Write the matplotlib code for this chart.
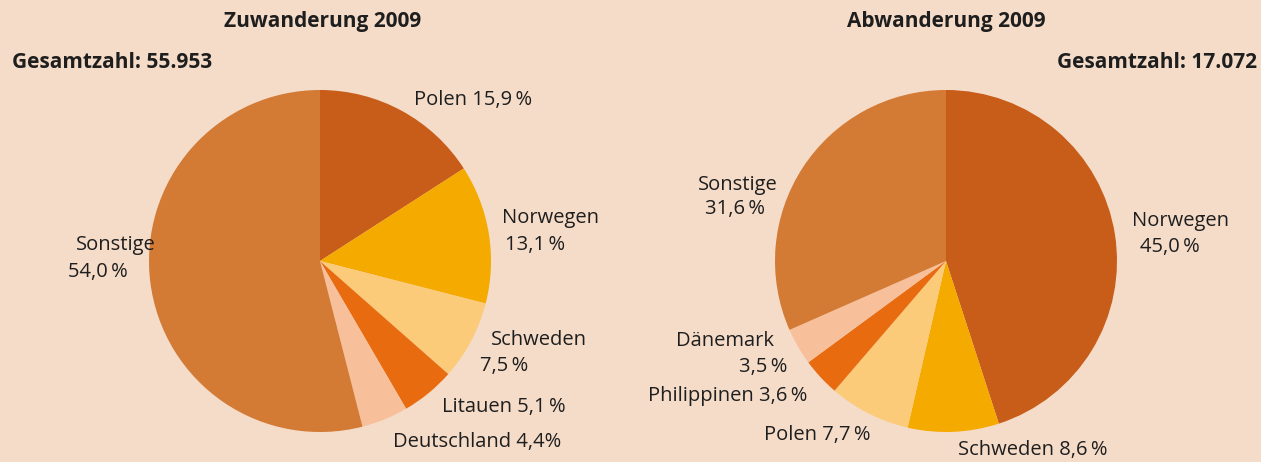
import matplotlib.pyplot as plt

plt.rcParams['font.family'] = ['Open Sans', 'DejaVu Sans']

# Zuwanderung 2009 (clockwise from top)
zu_labels = ['Polen', 'Norwegen', 'Schweden', 'Litauen', 'Deutschland', 'Sonstige']
zu_values = [15.9, 13.1, 7.5, 5.1, 4.4, 54.0]
zu_total = '55.953'

# Abwanderung 2009 (clockwise from top)
ab_labels = ['Norwegen', 'Schweden', 'Polen', 'Philippinen', 'Dänemark', 'Sonstige']
ab_values = [45.0, 8.6, 7.7, 3.6, 3.5, 31.6]
ab_total = '17.072'

zu_colors = ['#C85C19', '#F5AA00', '#FBCB7A', '#E96B10', '#F7C09A', '#D37A35']
ab_colors = ['#C85C19', '#F5AA00', '#FBCB7A', '#E96B10', '#F7C09A', '#D37A35']

BG = '#F5DCC9'
TXT = '#1E1E1E'
W, H = 1261, 462

fig = plt.figure(figsize=(W / 100, H / 100), dpi=100, facecolor=BG)


def px(x, y):
    return x / W, 1 - y / H


def pie_axes(cx, cy, r, values, colors):
    ax = fig.add_axes([(cx - r) / W, (H - cy - r) / H, 2 * r / W, 2 * r / H])
    ax.pie(values, colors=colors, startangle=90, counterclock=False,
           radius=1, wedgeprops=dict(linewidth=0))
    ax.set_xlim(-1, 1)
    ax.set_ylim(-1, 1)
    ax.set_aspect('equal')
    ax.axis('off')
    return ax


def pct(v, sep='\u2009'):
    return f'{v:.1f}'.replace('.', ',') + sep + '%'


def label(x, y, s, ha='left'):
    fig.text(*px(x, y), s, ha=ha, va='center', fontsize=14.5, color=TXT)


def heading(x, y, s, ha='center'):
    fig.text(*px(x, y), s, ha=ha, va='center', fontsize=15,
             fontweight='bold', color=TXT)


ax1 = pie_axes(320, 261, 171, zu_values, zu_colors)
ax2 = pie_axes(946, 261, 171, ab_values, ab_colors)

# titles
heading(323, 22, 'Zuwanderung 2009')
heading(12, 62, f'Gesamtzahl: {zu_total}', ha='left')
heading(946, 22, 'Abwanderung 2009')
heading(1257, 62, f'Gesamtzahl: {ab_total}', ha='right')

# left pie labels
label(414, 100, f'{zu_labels[0]} {pct(zu_values[0])}')
label(599, 218, zu_labels[1], ha='right')
label(565, 245, pct(zu_values[1]), ha='right')
label(587, 340, zu_labels[2], ha='right')
label(528, 366, pct(zu_values[2]), ha='right')
label(442, 407, f'{zu_labels[3]} {pct(zu_values[3])}')
label(393, 442, f'{zu_labels[4]} {pct(zu_values[4], "")}')
label(156, 245, zu_labels[5], ha='right')
label(128, 272, pct(zu_values[5]), ha='right')

# right pie labels
label(1132, 221, ab_labels[0])
label(1140, 247, pct(ab_values[0]))
label(958, 450, f'{ab_labels[1]} {pct(ab_values[1])}')
label(764, 435, f'{ab_labels[2]} {pct(ab_values[2])}')
label(648, 396, f'{ab_labels[3]} {pct(ab_values[3])}')
label(774, 341, ab_labels[4], ha='right')
label(787, 367, pct(ab_values[4]), ha='right')
label(778, 185, ab_labels[5], ha='right')
label(765, 209, pct(ab_values[5]), ha='right')

fig.savefig('out.png', dpi=100, facecolor=BG)
